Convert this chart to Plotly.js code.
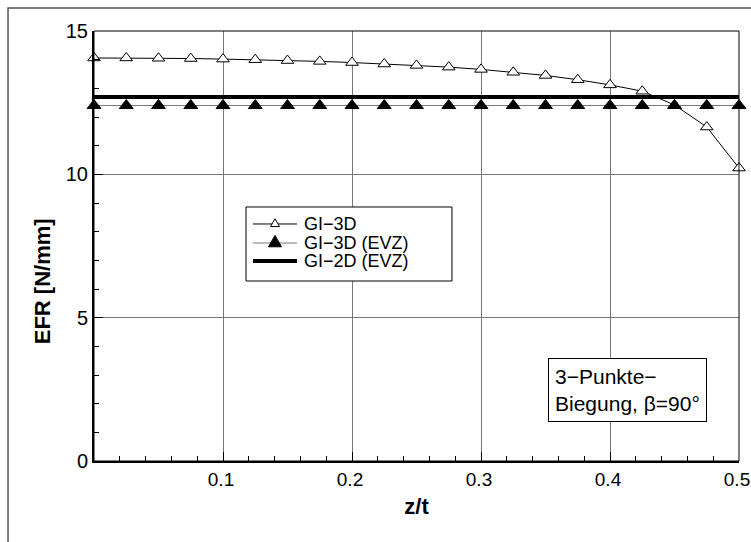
<!DOCTYPE html>
<html>
<head>
<meta charset="utf-8">
<script src="https://cdn.plot.ly/plotly-3.0.1.min.js"></script>
<style>
  html, body { margin: 0; padding: 0; background: #fff; }
  #chart { width: 751px; height: 542px; }
</style>
</head>
<body>
<div id="chart"></div>
<script>
// Position along the thickness z/t
const zPos = [0, 0.025, 0.05, 0.075, 0.1, 0.125, 0.15, 0.175, 0.2, 0.225, 0.25,
              0.275, 0.3, 0.325, 0.35, 0.375, 0.4, 0.425, 0.45, 0.475, 0.5];

// Energy release rate EFR [N/mm]
const gi3d = [14.06, 14.06, 14.05, 14.04, 14.02, 14.00, 13.97, 13.94, 13.90, 13.85, 13.80,
              13.74, 13.66, 13.56, 13.45, 13.30, 13.12, 12.90, 12.42, 11.65, 10.22];
const gi3dEvz = [12.4, 12.4, 12.4, 12.4, 12.4, 12.4, 12.4, 12.4, 12.4, 12.4, 12.4,
                 12.4, 12.4, 12.4, 12.4, 12.4, 12.4, 12.4, 12.4, 12.4, 12.4];
const zPos2d = [0, 0.5];
const gi2dEvz = [12.7, 12.7];

const seriesNames = ['GI\u22123D', 'GI\u22123D (EVZ)', 'GI\u22122D (EVZ)'];

const xTickVals = [0.1, 0.2, 0.3, 0.4, 0.5];
const xTickText = ['0.1', '0.2', '0.3', '0.4', '0.5'];
const yTickVals = [0, 5, 10, 15];
const yTickText = ['0', '5', '10', '15'];

const xTitle = 'z/t';
const yTitle = 'EFR [N/mm]';
const noteText = '3\u2212Punkte\u2212<br>Biegung, \u03b2=90\u00b0';

const FONT = 'Liberation Sans, Arial, sans-serif';

const traces = [
  {
    x: zPos, y: gi3d, name: seriesNames[0], type: 'scatter', mode: 'lines+markers',
    cliponaxis: false,
    line: { color: '#000', width: 1 },
    marker: { symbol: 'triangle-up', size: 11, color: '#fff', line: { color: '#000', width: 1 } }
  },
  {
    x: zPos, y: gi3dEvz, name: seriesNames[1], type: 'scatter', mode: 'lines+markers',
    cliponaxis: false,
    line: { color: '#777', width: 1 },
    marker: { symbol: 'triangle-up', size: 12, color: '#000', line: { color: '#000', width: 1 } }
  },
  {
    x: zPos2d, y: gi2dEvz, name: seriesNames[2], type: 'scatter', mode: 'lines',
    cliponaxis: false,
    line: { color: '#000', width: 4 }
  }
];

// Hand-built legend box (paper coordinates of the box, rows and symbol columns)
const legBox = { x0: 0.2357, x1: 0.5550, y0: 0.4186, y1: 0.5907 };
const legRows = [0.5512, 0.5070, 0.4651];
const legLineX = [0.2465, 0.3147];
const legMarkX = 0.2806;
const legTextX = 0.3225;

const triSmall = 'M-4.5,-2.6 L4.5,-2.6 L0,5.2 Z';
const triLarge = 'M-6.5,-3.8 L6.5,-3.8 L0,7.6 Z';

const legendShapes = [
  { type: 'rect', xref: 'paper', yref: 'paper', x0: legBox.x0, x1: legBox.x1, y0: legBox.y0, y1: legBox.y1,
    line: { color: '#000', width: 1 }, fillcolor: '#fff', layer: 'above' },
  { type: 'line', xref: 'paper', yref: 'paper', x0: legLineX[0], x1: legLineX[1], y0: legRows[0], y1: legRows[0],
    line: { color: '#000', width: 1 }, layer: 'above' },
  { type: 'path', xref: 'paper', yref: 'paper', xsizemode: 'pixel', ysizemode: 'pixel',
    xanchor: legMarkX, yanchor: legRows[0], path: triSmall,
    line: { color: '#000', width: 1 }, fillcolor: '#fff', layer: 'above' },
  { type: 'line', xref: 'paper', yref: 'paper', x0: legLineX[0], x1: legLineX[1], y0: legRows[1], y1: legRows[1],
    line: { color: '#777', width: 1 }, layer: 'above' },
  { type: 'path', xref: 'paper', yref: 'paper', xsizemode: 'pixel', ysizemode: 'pixel',
    xanchor: legMarkX, yanchor: legRows[1], path: triLarge,
    line: { color: '#000', width: 1 }, fillcolor: '#000', layer: 'above' },
  { type: 'line', xref: 'paper', yref: 'paper', x0: legLineX[0], x1: legLineX[1], y0: legRows[2], y1: legRows[2],
    line: { color: '#000', width: 4 }, layer: 'above' }
];

const legendLabels = seriesNames.map((name, i) => ({
  xref: 'paper', yref: 'paper', x: legTextX, y: legRows[i],
  xanchor: 'left', yanchor: 'middle', showarrow: false,
  text: name, font: { family: FONT, size: 18, color: '#000' }
}));

const layout = {
  width: 751,
  height: 542,
  margin: { l: 94, r: 12, t: 31, b: 81 },
  paper_bgcolor: '#fff',
  plot_bgcolor: '#fff',
  font: { family: FONT, size: 20, color: '#000' },
  showlegend: false,
  xaxis: {
    range: [0, 0.5],
    tickmode: 'array', tickvals: xTickVals, ticktext: xTickText,
    ticks: 'inside', ticklen: 9, tickwidth: 1, tickcolor: '#000',
    ticklabeloverflow: 'allow', ticklabelshift: -2,
    showgrid: true, gridcolor: '#777', gridwidth: 1,
    showline: true, linecolor: '#000', linewidth: 2,
    zeroline: false,
    tickfont: { family: FONT, size: 19 },
    minor: { dtick: 0.02, tick0: 0, ticks: 'inside', ticklen: 5, tickcolor: '#000', showgrid: false },
    title: { text: '<b>' + xTitle + '</b>', font: { family: FONT, size: 22 }, standoff: 10 }
  },
  yaxis: {
    range: [0, 15],
    tickmode: 'array', tickvals: yTickVals, ticktext: yTickText,
    ticks: 'inside', ticklen: 9, tickwidth: 1, tickcolor: '#000',
    ticklabeloverflow: 'allow',
    showgrid: true, gridcolor: '#777', gridwidth: 1,
    showline: true, linecolor: '#000', linewidth: 2,
    zeroline: false,
    tickfont: { family: FONT, size: 20 },
    minor: { dtick: 1, tick0: 0, ticks: 'inside', ticklen: 5, tickcolor: '#000', showgrid: false }
  },
  shapes: [
    // plot frame
    { type: 'rect', xref: 'paper', yref: 'paper', x0: 0, x1: 1, y0: 0, y1: 1,
      line: { color: '#000', width: 1 }, layer: 'above' },
    // outer page frame
    { type: 'rect', xref: 'paper', yref: 'paper', x0: -0.1333, x1: 1.08, y0: -0.35, y1: 1.0535,
      line: { color: '#555', width: 1.5 }, layer: 'below' }
  ].concat(legendShapes),
  annotations: [
    // y-axis title
    {
      xref: 'paper', yref: 'paper', x: -0.0806, y: 0.418,
      xanchor: 'center', yanchor: 'middle', textangle: -90, showarrow: false,
      text: '<b>' + yTitle + '</b>', font: { family: FONT, size: 22, color: '#000' }
    },
    // load case note
    {
      xref: 'paper', yref: 'paper', x: 0.9504, y: 0.0907,
      xanchor: 'right', yanchor: 'bottom',
      text: noteText, showarrow: false, align: 'left',
      font: { family: FONT, size: 21, color: '#000' },
      bgcolor: '#fff', bordercolor: '#000', borderwidth: 1, borderpad: 6
    }
  ].concat(legendLabels)
};

Plotly.newPlot('chart', traces, layout, { displayModeBar: false, staticPlot: true });
</script>
</body>
</html>
